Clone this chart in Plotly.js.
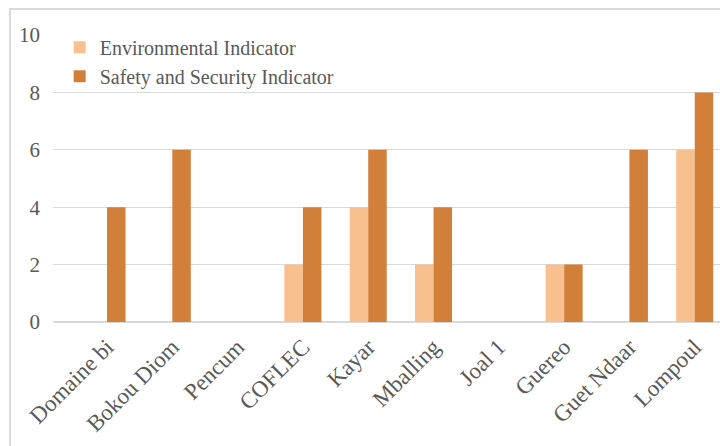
<!DOCTYPE html>
<html><head><meta charset="utf-8">
<script src="https://cdn.plot.ly/plotly-3.0.1.min.js"></script>
<style>html,body{margin:0;padding:0;background:#fff}#chart{width:720px;height:446px}</style>
</head><body><div id="chart"></div>
<script>
const categories = ["Domaine bi","Bokou Diom","Pencum","COFLEC","Kayar","Mballing","Joal 1","Guereo","Guet Ndaar","Lompoul"];
const environmental = [0,0,0,2,4,2,0,2,0,6];
const safety = [4,6,0,4,6,4,0,2,6,8];
const yTicks = [0,2,4,6,8,10];

const fam = "Liberation Serif, serif";
const grey = "#595959";
const traces = [
  {type:"bar", name:"Environmental Indicator", x:categories, y:environmental,
   marker:{color:"#F8BF8F", line:{width:0}}},
  {type:"bar", name:"Safety and Security Indicator", x:categories, y:safety,
   marker:{color:"#D27F3A", line:{width:0}}}
];
const layout = {
  width:720, height:446,
  margin:{l:53, r:0, t:35, b:124},
  paper_bgcolor:"#fff", plot_bgcolor:"#fff",
  barmode:"group", bargap:0.433, bargroupgap:0,
  font:{family:fam, size:20, color:grey},
  showlegend:true,
  legend:{x:0.01, xanchor:"left", y:1.025, yanchor:"top", bgcolor:"rgba(0,0,0,0)", font:{family:fam, size:20, color:grey}, tracegroupgap:0, itemwidth:30},
  xaxis:{type:"category", range:[-0.827, 9.387], tickangle:-45, showgrid:false, showline:false, zeroline:false, ticks:"", tickfont:{family:fam, size:23, color:grey}, ticklabelstandoff:6, automargin:false},
  yaxis:{range:[0,10], tickvals:yTicks, showgrid:true, gridcolor:"#D9D9D9", gridwidth:1, zeroline:true, zerolinecolor:"#D9D9D9", zerolinewidth:1.5, showline:false, ticks:"", tickfont:{family:fam, size:21, color:grey}, ticklabelstandoff:12, automargin:false},
  shapes:[{type:"rect", xref:"paper", yref:"paper", x0:-0.0645, x1:1.2, y0:-1, y1:1.0906, line:{color:"#D9D9D9", width:2}, layer:"below"}]
};
Plotly.newPlot("chart", traces, layout, {staticPlot:true, displayModeBar:false});
</script></body></html>
